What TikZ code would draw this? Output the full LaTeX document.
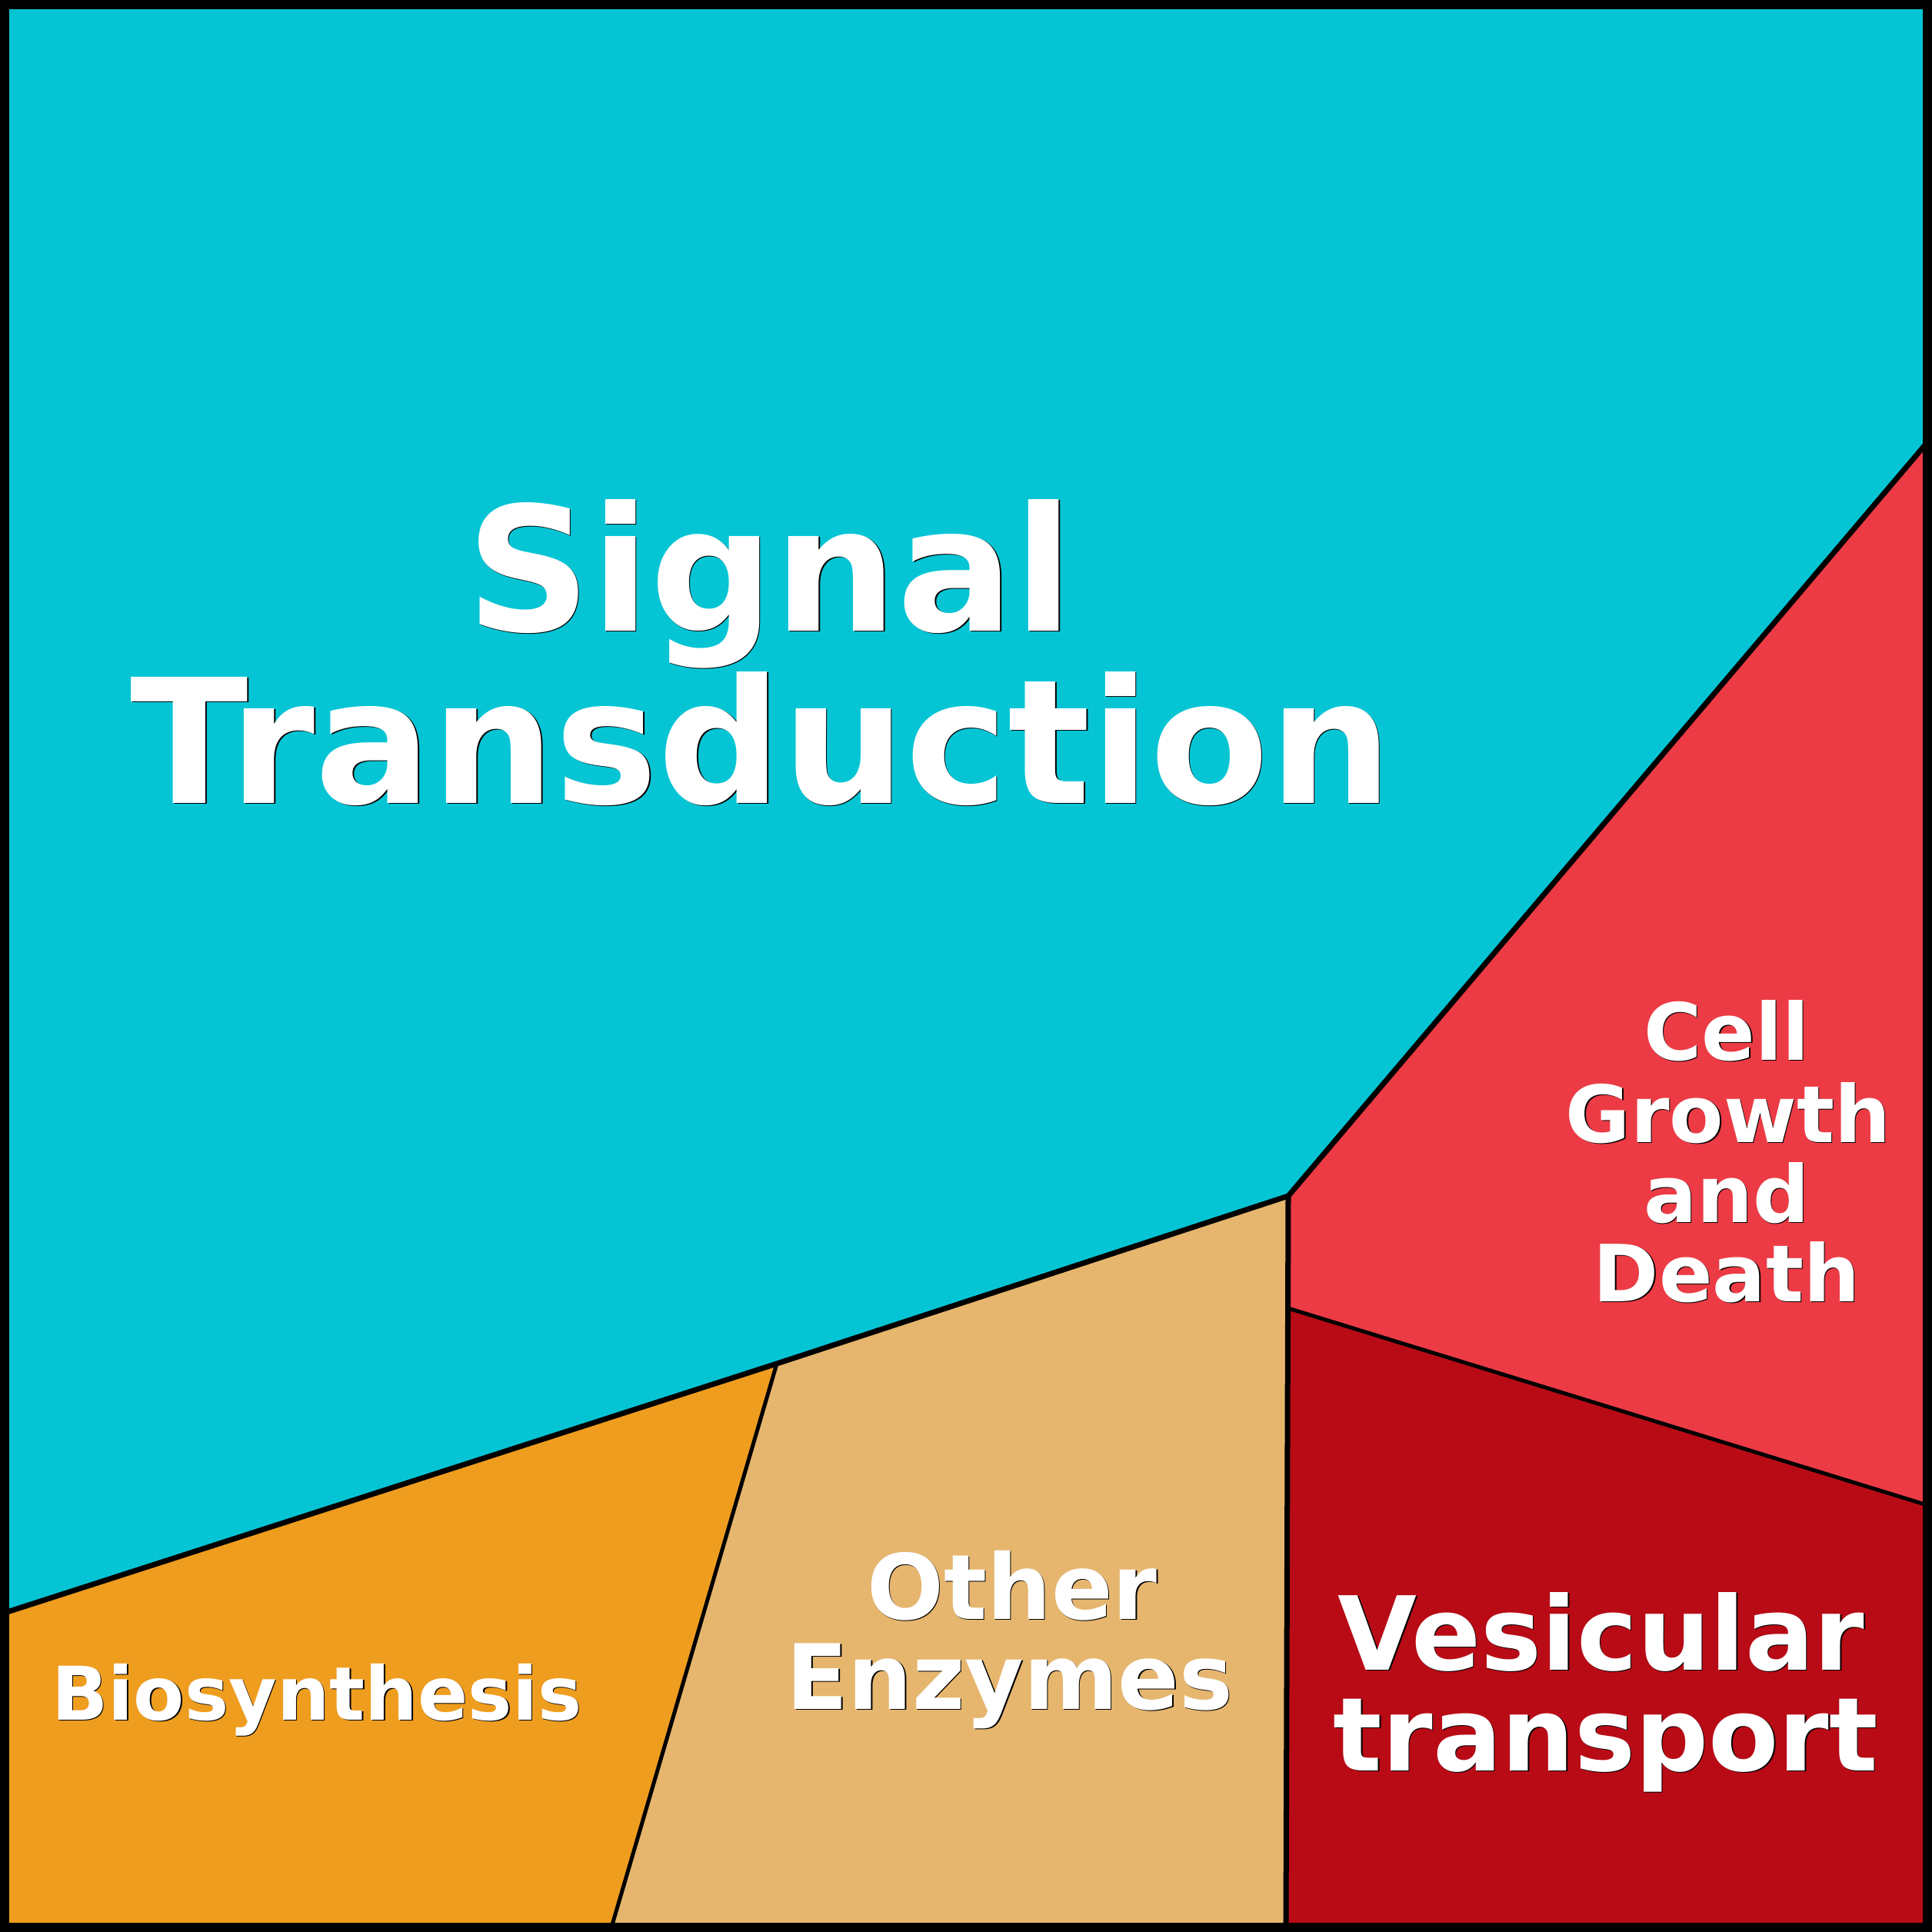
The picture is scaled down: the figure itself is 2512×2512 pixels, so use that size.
\documentclass[tikz,border=0pt]{standalone}
\usepackage{fontspec}
\setmainfont{DejaVu Sans}
\usepackage{tikz}
\definecolor{cian}{RGB}{5,197,213}
\definecolor{rojo}{RGB}{236,59,69}
\definecolor{granate}{RGB}{184,11,22}
\definecolor{arena}{RGB}{230,182,111}
\definecolor{naranja}{RGB}{239,157,31}
\tikzset{
	texto/.style={text=white, anchor=base, inner sep=0pt},
	sombra/.style={texto, text=black, xshift=0.4pt, yshift=-0.4pt},
	grueso/.style={line width=0.07cm, black},
	fino/.style={line width=0.05cm, black}
	}
\newcommand{\rotulo}[4]{
	\node [sombra, font=\fontsize{#3}{#3}\selectfont\bfseries] at (#2) {#4};
	\node [texto, font=\fontsize{#3}{#3}\selectfont\bfseries] (#1) at (#2) {#4};
	}

\begin{document}
\begin{tikzpicture}[x=0.01cm, y=-0.01cm]
	\useasboundingbox (0,0) rectangle (2512,2512);
	\coordinate (ld) at (6,2097);
	\coordinate (md) at (1010,1773);
	\coordinate (cj) at (1675,1555);
	\coordinate (rd) at (2506,575);
	\coordinate (rj) at (1675,1701);
	\coordinate (rr) at (2506,1957);
	\coordinate (bm) at (795,2506);
	\coordinate (bj) at (1672,2506);
	% zonas
	\fill [cian] (0,0) rectangle (2512,2512);
	\fill [naranja] (ld) -- (md) -- (bm) -- (6,2506) -- cycle;
	\fill [arena] (md) -- (cj) -- (bj) -- (bm) -- cycle;
	\fill [rojo] (cj) -- (rd) -- (rr) -- (rj) -- cycle;
	\fill [granate] (rj) -- (rr) -- (2506,2506) -- (bj) -- cycle;
	% bordes
	\draw [fino] (md) -- (bm);
	\draw [fino] (rj) -- (rr);
	\draw [grueso] (ld) -- (md) -- (cj) -- (rd);
	\draw [grueso] (cj) -- (bj);
	\draw [line width=0.12cm] (6,6) rectangle (2506,2506);
	% textos
	\rotulo{signal}{1001,820}{64}{Signal}
	\rotulo{transd}{990,1044}{64}{Transduction}
	\rotulo{cell}{2245,1378}{29.2}{Cell}
	\rotulo{growth}{2247,1485}{29.2}{Growth}
	\rotulo{and}{2245,1589}{29.2}{and}
	\rotulo{death}{2245,1692}{29.2}{Death}
	\rotulo{vesic}{2082,2171}{37.8}{Vesicular}
	\rotulo{transp}{2088,2302}{37.8}{transport}
	\rotulo{other}{1316,2105}{33.4}{Other}
	\rotulo{enzym}{1313,2222}{33.4}{Enzymes}
	\rotulo{biosyn}{412,2236}{27.4}{Biosynthesis}
\end{tikzpicture}
\end{document}
